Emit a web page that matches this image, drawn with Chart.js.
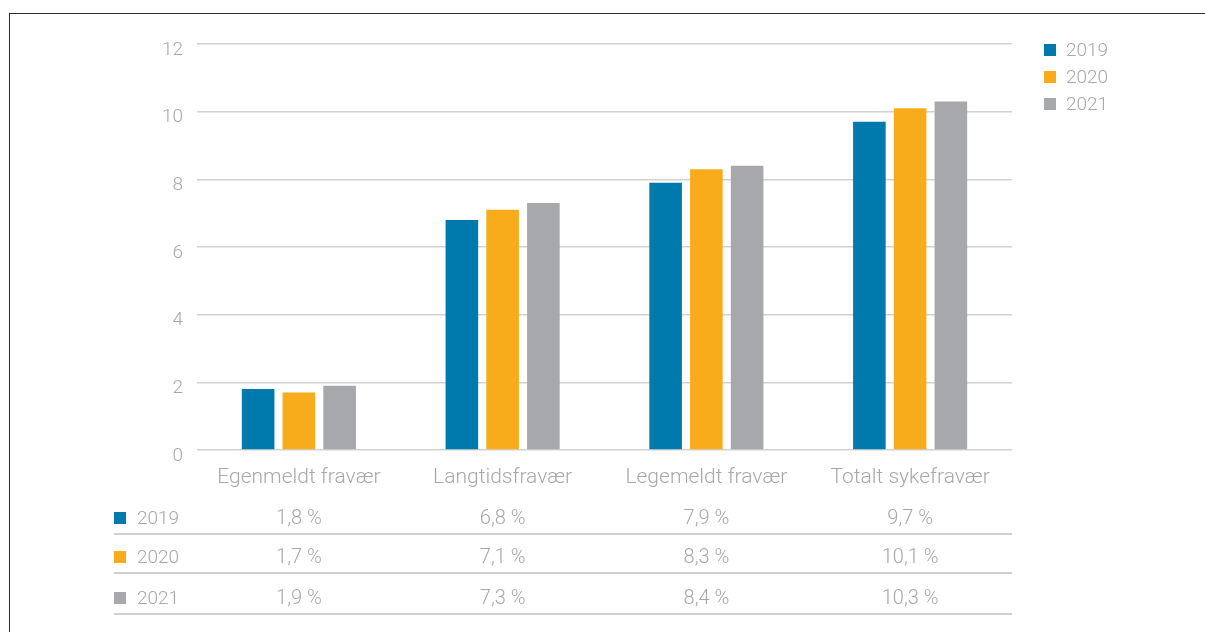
<!DOCTYPE html>
<html>
<head>
<meta charset="utf-8">
<script src="https://cdn.jsdelivr.net/npm/chart.js@4"></script>
<style>
    body { margin: 0; background: #fff; }
    #wrap { position: relative; width: 1205px; height: 632px; }
    #frame { position: absolute; left: 9px; top: 13px; right: -2px; bottom: -2px; border-top: 1.5px solid #2b2b2b; border-left: 1.5px solid #2b2b2b; }
    canvas { position: absolute; left: 0; top: 0; }
</style>
</head>
<body>
<div id="wrap">
    <div id="frame"></div>
    <canvas id="barChart" width="1205" height="632"></canvas>
</div>
<script>
const categories = ["Egenmeldt fravær", "Langtidsfravær", "Legemeldt fravær", "Totalt sykefravær"]
const years = ["2019", "2020", "2021"]
const values2019 = [1.8, 6.8, 7.9, 9.7]
const values2020 = [1.7, 7.1, 8.3, 10.1]
const values2021 = [1.9, 7.3, 8.4, 10.3]
const yTicks = [0, 2, 4, 6, 8, 10, 12]

const colors = ["#007aad", "#f9ac1b", "#a7a8ab"]
const textColor = "#a6a8ab"
const font = { family: "Roboto", size: 19, weight: "300" }

const fmt = v => v.toFixed(1).replace(".", ",") + " %"

const tableAndLegend = {
    id: "tableAndLegend",
    afterDraw(chart) {
        const ctx = chart.ctx
        const x = chart.scales.x
        ctx.save()
        ctx.textBaseline = "middle"
        const rowYs = [518, 557, 598]
        chart.data.datasets.forEach((ds, i) => {
            const y = rowYs[i]
            ctx.font = "300 19px Roboto"
            ctx.fillStyle = ds.backgroundColor
            ctx.fillRect(114, y - 6, 12, 12)
            ctx.fillStyle = textColor
            ctx.textAlign = "left"
            ctx.fillText(ds.label, 137, y + 1)
            ctx.font = "300 20px Roboto"
            ctx.textAlign = "center"
            ds.data.forEach((v, j) => {
                ctx.fillText(fmt(v), x.getPixelForValue(j), y + 1)
            })
            ctx.strokeStyle = "#cfcfcf"
            ctx.lineWidth = 2
            ctx.beginPath()
            ctx.moveTo(114, y + 16)
            ctx.lineTo(1012, y + 16)
            ctx.stroke()

            // legend
            const ly = 50 + i * 27
            ctx.font = "300 19px Roboto"
            ctx.fillStyle = ds.backgroundColor
            ctx.fillRect(1044, ly - 6, 12, 12)
            ctx.fillStyle = textColor
            ctx.textAlign = "left"
            ctx.fillText(ds.label, 1066, ly + 1)
        })
        ctx.restore()
    }
}

new Chart(document.getElementById("barChart"), {
    type: "bar",
    data: {
        labels: categories,
        datasets: [
            { label: years[0], data: values2019, backgroundColor: colors[0] },
            { label: years[1], data: values2020, backgroundColor: colors[1] },
            { label: years[2], data: values2021, backgroundColor: colors[2] }
        ]
    },
    options: {
        responsive: false,
        animation: false,
        layout: { padding: { left: 0, right: 193, top: 44, bottom: 142 } },
        datasets: { bar: { categoryPercentage: 0.6, barPercentage: 0.8 } },
        plugins: {
            legend: { display: false },
            tooltip: { enabled: false }
        },
        scales: {
            x: {
                grid: { display: false, drawTicks: false },
                border: { display: false },
                ticks: { color: textColor, font: { family: "Roboto", size: 21, weight: "300" }, padding: 15 },
                afterFit(scale) { scale.height = 40 }
            },
            y: {
                min: 0,
                max: 12,
                afterBuildTicks(scale) { scale.ticks = yTicks.map(v => ({ value: v })) },
                grid: { color: "#d2d2d2", lineWidth: 1.5, drawTicks: false },
                border: { display: false },
                ticks: { color: textColor, font: font, padding: 14, labelOffset: 6 },
                afterFit(scale) { scale.width = 197 }
            }
        }
    },
    plugins: [tableAndLegend]
})
</script>
</body>
</html>
